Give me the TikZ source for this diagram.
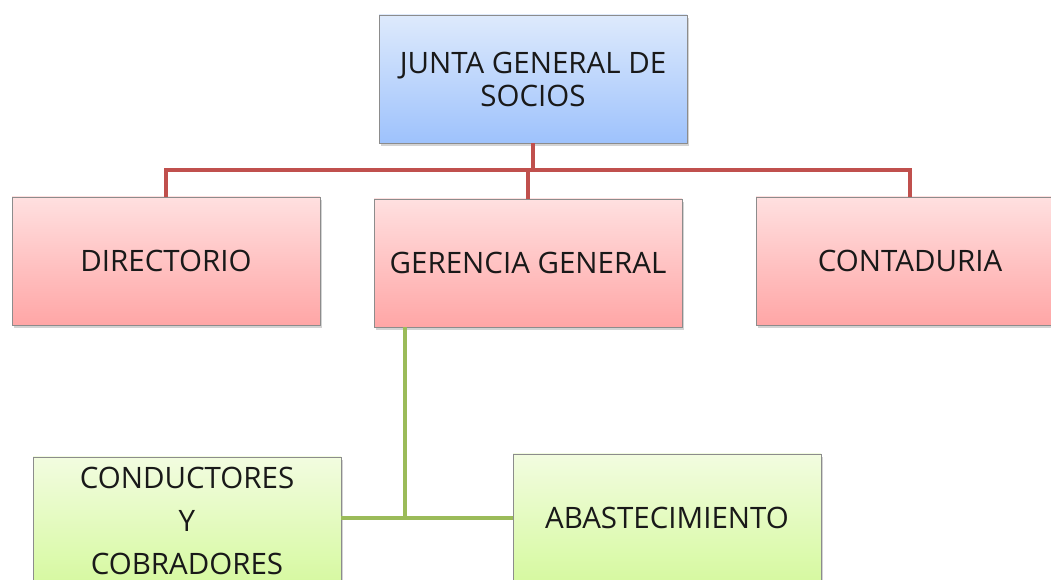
\documentclass[tikz,border=0pt]{standalone}
\usepackage{fontspec}
\setmainfont{Open Sans}
\usetikzlibrary{shadows}
\definecolor{redline}{HTML}{C0504D}
\definecolor{greenline}{HTML}{9BBB59}
\begin{document}
\begin{tikzpicture}[x=1pt, y=1pt,
    box/.style={draw=black!45, line width=0.8pt, minimum width=308pt, minimum height=128pt,
      align=center, font=\fontsize{29.5}{33}\selectfont, text=black!90,
      drop shadow={opacity=0.35, shadow xshift=2pt, shadow yshift=-3pt}},
    bluebox/.style={box, top color={rgb,255:red,222;green,234;blue,252}, bottom color={rgb,255:red,158;green,194;blue,252}},
    redbox/.style={box, top color={rgb,255:red,255;green,224;blue,224}, bottom color={rgb,255:red,255;green,166;blue,166}},
    greenbox/.style={box, top color={rgb,255:red,242;green,252;blue,224}, bottom color={rgb,255:red,214;green,249;blue,160}},
    redwire/.style={draw=redline, line width=4pt},
    greenwire/.style={draw=greenline, line width=4pt}]
  \useasboundingbox (0,0) rectangle (1051,580);
  % nodes
  \node[bluebox] (junta) at (533,501) {JUNTA GENERAL DE\\SOCIOS};
  \node[redbox] (dir) at (166,319) {DIRECTORIO};
  \node[redbox] (ger) at (528,317) {GERENCIA GENERAL};
  \node[redbox] (cont) at (910,319) {CONTADURIA};
  \node[greenbox] (cond) at (187,59) {CONDUCTORES\\[10pt]Y\\[10pt]COBRADORES};
  \node[greenbox] (abast) at (667,62) {ABASTECIMIENTO};
  \coordinate (hub) at (533,410);
  \coordinate (gjoin) at (405,62);
  % connectors
  \draw[redwire] (junta.south) -- (hub);
  \draw[redwire] (dir.north) |- (hub) -| (cont.north);
  \draw[redwire] (ger.north) -- (ger.north |- hub);
  \draw[greenwire] (ger.south -| gjoin) -- (gjoin);
  \draw[greenwire] (cond.east |- gjoin) -- (abast.west |- gjoin);
\end{tikzpicture}
\end{document}
